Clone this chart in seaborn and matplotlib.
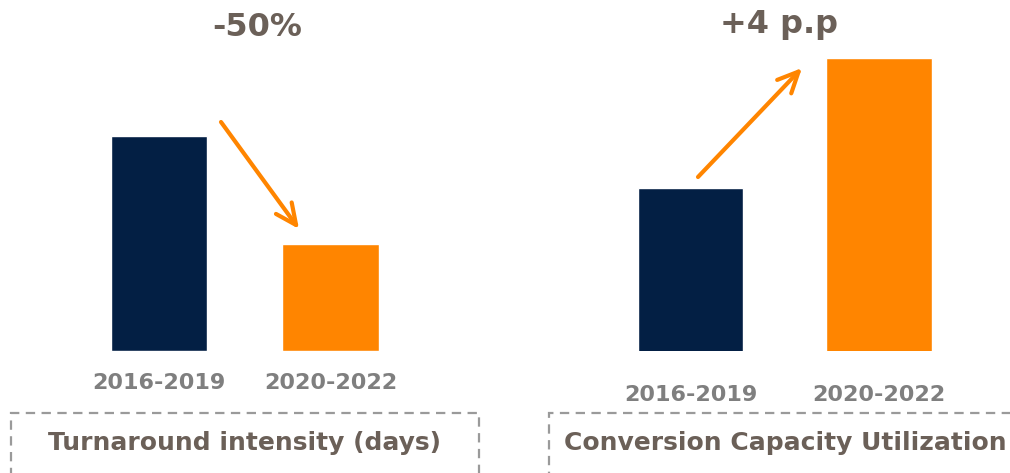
import matplotlib
matplotlib.use('Agg')
import matplotlib.pyplot as plt
import seaborn as sns
from matplotlib.patches import Rectangle, FancyArrowPatch

# data
periods = ['2016-2019', '2020-2022']
turnaround_days = [40, 20]
utilization_pct = [85, 89]
change_labels = ['-50%', '+4 p.p']
panel_titles = ['Turnaround intensity (days)', 'Conversion Capacity Utilization']

navy = '#031f44'
orange = '#ff8500'
tick_grey = '#7f7f7f'
title_brown = '#6b6058'

sns.set_theme(style='white')
plt.rcParams['font.family'] = ['DejaVu Sans']

W, H = 1010, 473
fig = plt.figure(figsize=(W / 100, H / 100), dpi=100)


def px_box(x0, x1, ytop, ybot):
    return [x0 / W, 1 - ybot / H, (x1 - x0) / W, (ybot - ytop) / H]


ax1 = fig.add_axes(px_box(73.25, 416.25, 58, 351))
ax2 = fig.add_axes(px_box(596.25, 973.25, 58, 351))

sns.barplot(x=periods, y=turnaround_days, hue=periods, palette=[navy, orange],
            width=0.56, saturation=1, legend=False, ax=ax1)
sns.barplot(x=periods, y=utilization_pct, hue=periods, palette=[navy, orange],
            width=0.56, saturation=1, legend=False, ax=ax2)

ax1.set_ylim(0, 40 * 293 / 215)
ax2.set_ylim(80, 89)

for ax, pad in [(ax1, 16), (ax2, 24.5)]:
    ax.set_xlim(-0.5, 1.5)
    ax.set_yticks([])
    ax.set_xlabel('')
    ax.set_ylabel('')
    sns.despine(ax=ax, left=True, bottom=True)
    ax.tick_params(axis='x', length=0, pad=pad, labelsize=16, labelcolor=tick_grey)
    for t in ax.get_xticklabels():
        t.set_fontweight('bold')

# change labels on top
fig.text(257 / W, 1 - 27 / H, change_labels[0], ha='center', va='center',
         fontsize=23, fontweight='bold', color=title_brown)
fig.text(779 / W, 1 - 25 / H, change_labels[1], ha='center', va='center',
         fontsize=23, fontweight='bold', color=title_brown)

# arrows
arrow_kw = dict(arrowstyle='->,head_length=0.75,head_width=0.35', color=orange,
                lw=3, mutation_scale=20, shrinkA=0, shrinkB=0,
                joinstyle='round', capstyle='round')
fig.add_artist(FancyArrowPatch(
    (221 / W, 1 - 122 / H), (299 / W, 1 - 229 / H),
    transform=fig.transFigure, **arrow_kw))
fig.add_artist(FancyArrowPatch(
    (698 / W, 1 - 177 / H), (802 / W, 1 - 68 / H),
    transform=fig.transFigure, **arrow_kw))

# dashed title boxes
for x0, x1 in [(11, 479), (549, 1040)]:
    fig.add_artist(Rectangle((x0 / W, -0.05), (x1 - x0) / W, (473 - 413) / H + 0.05,
                             transform=fig.transFigure, fill=False,
                             edgecolor='#9a9a9a', lw=1.6, linestyle=(0, (4.2, 2.9))))

fig.text(245 / W, 1 - 443 / H, panel_titles[0], ha='center', va='center',
         fontsize=18, fontweight='bold', color=title_brown)
fig.text(785 / W, 1 - 443 / H, panel_titles[1], ha='center', va='center',
         fontsize=18, fontweight='bold', color=title_brown)

fig.savefig('out.png', dpi=100)
